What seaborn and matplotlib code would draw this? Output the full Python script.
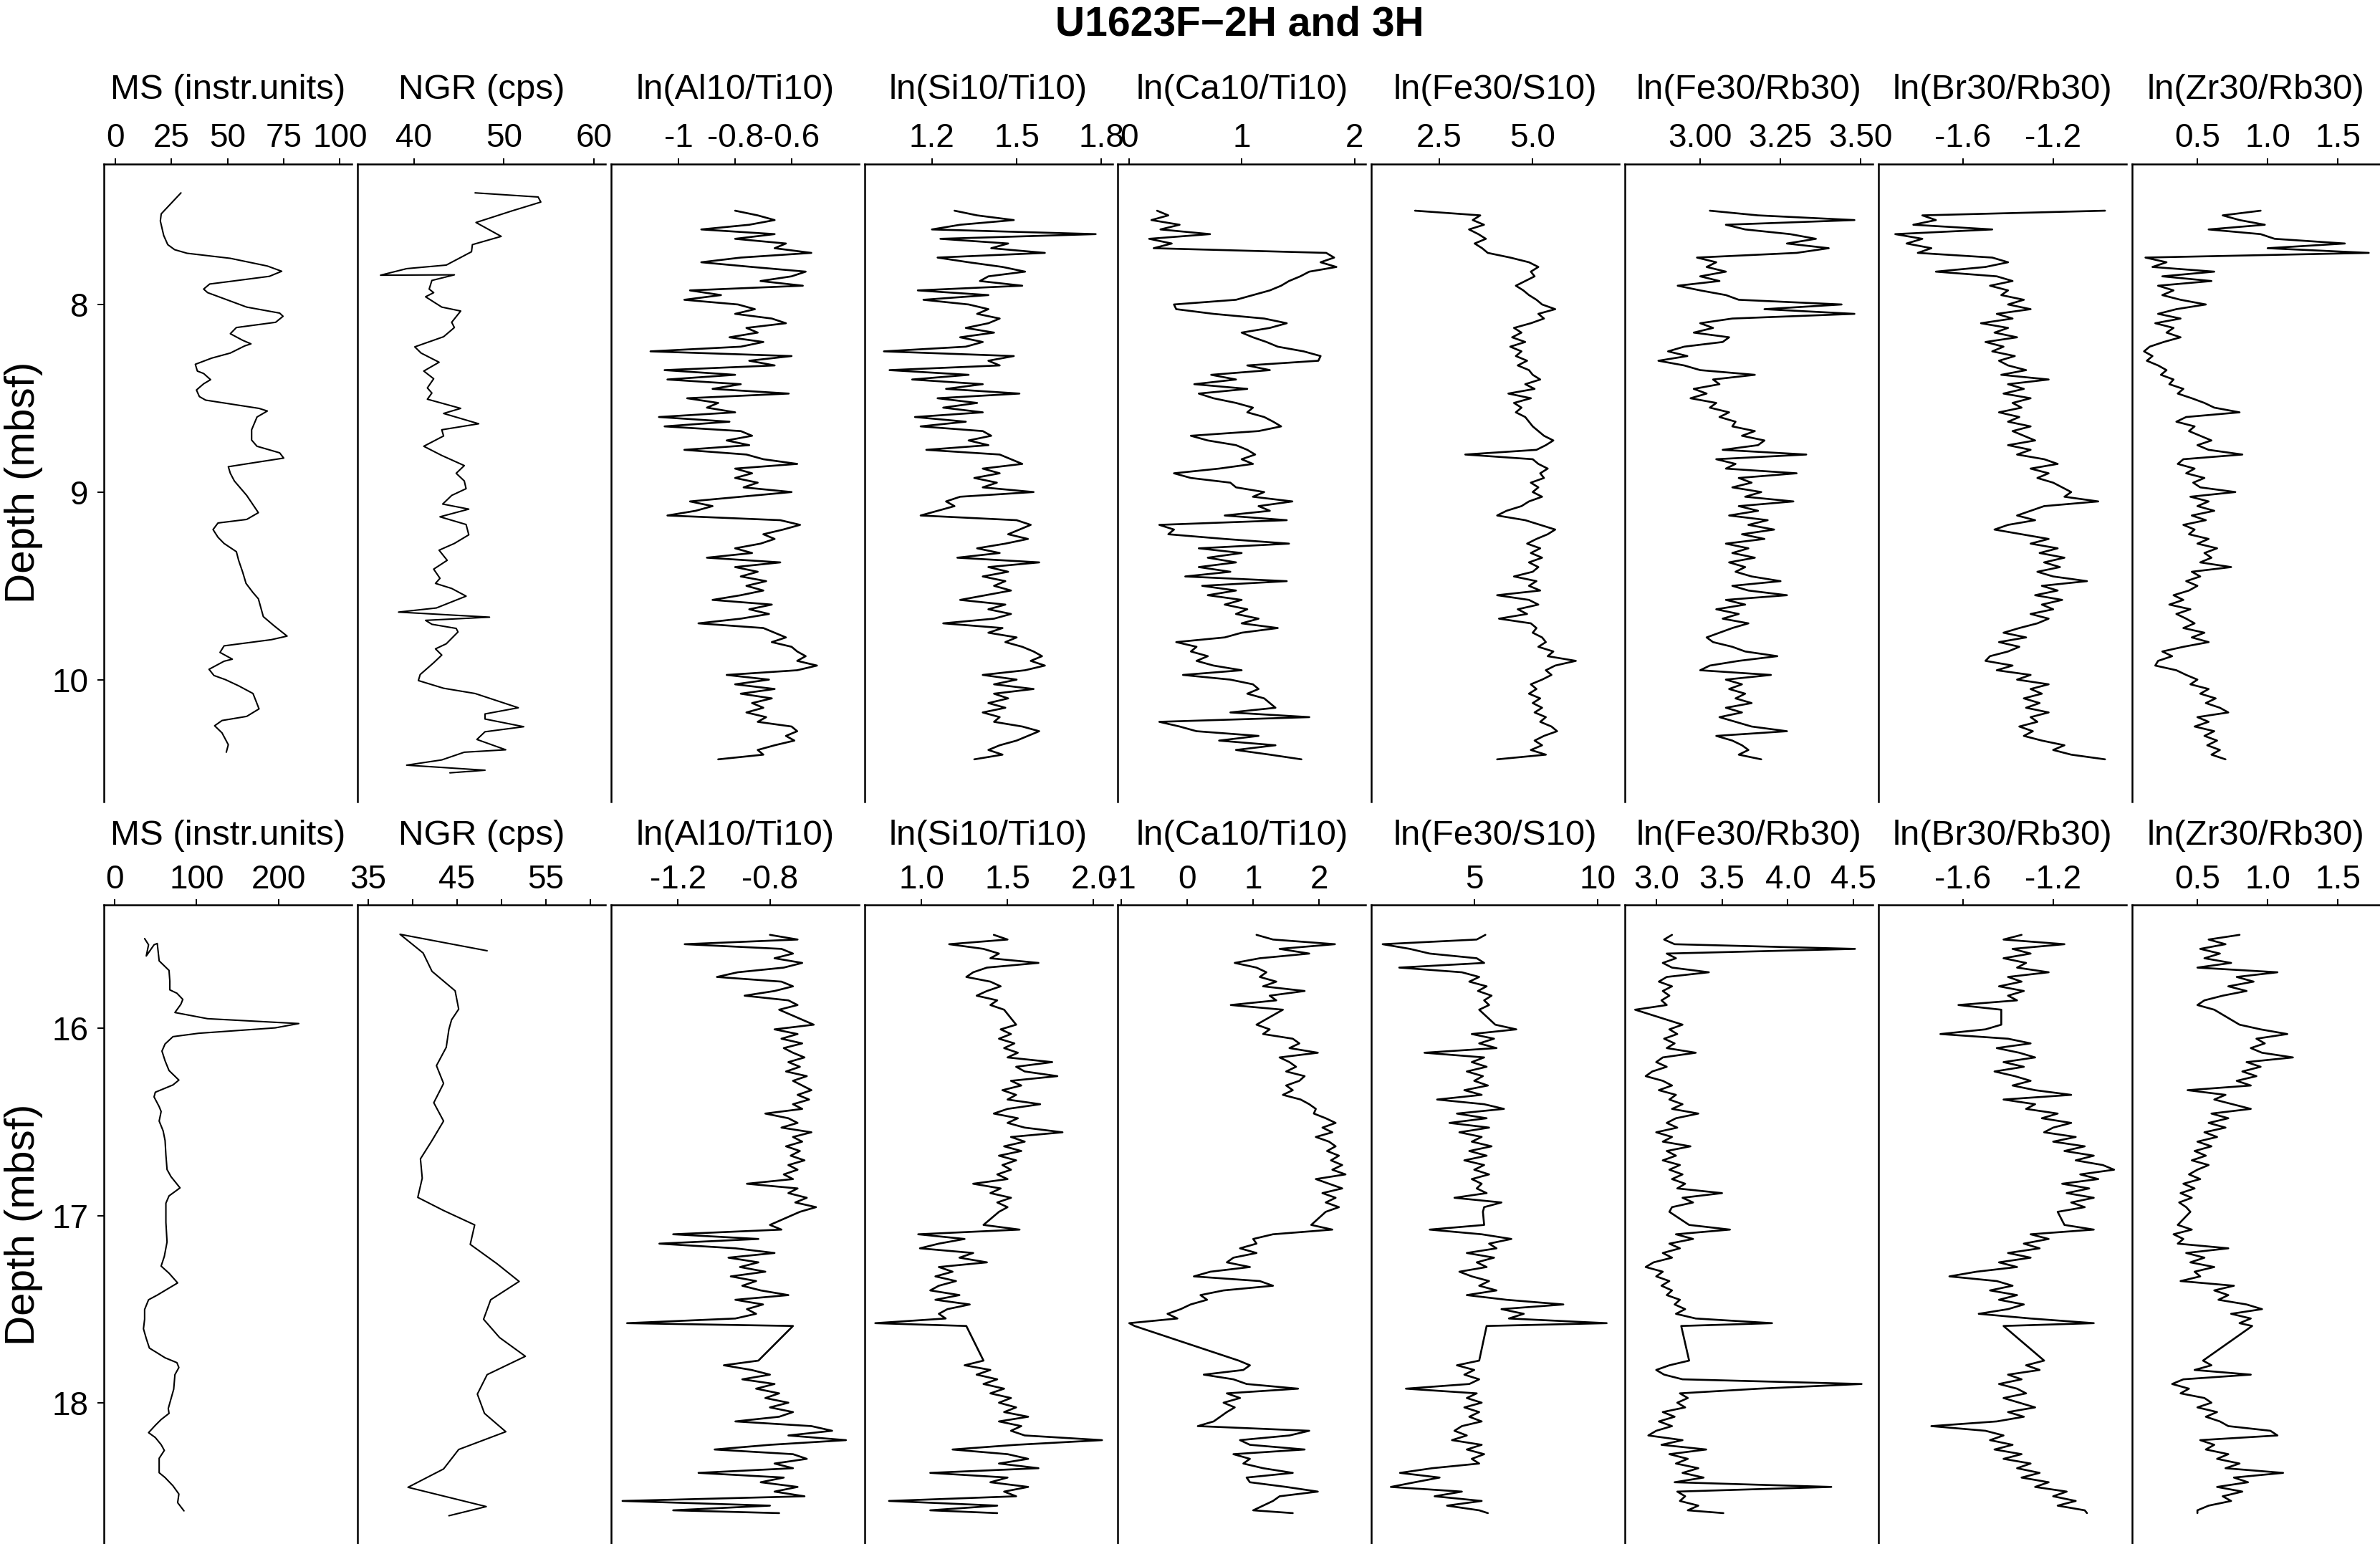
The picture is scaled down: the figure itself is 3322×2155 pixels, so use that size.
import matplotlib
matplotlib.use("Agg")
import matplotlib.pyplot as plt
import seaborn as sns

# ---------------- data: section 2H (upper row) ----------------
ms_top_depth = [7.405, 7.517, 7.555, 7.632, 7.681, 7.708, 7.727, 7.754, 7.795, 7.823,
                7.850, 7.877, 7.891, 7.918, 7.937, 8.014, 8.046, 8.063, 8.095, 8.123,
                8.156, 8.191, 8.210, 8.221, 8.259, 8.286, 8.319, 8.355, 8.368, 8.401,
                8.423, 8.456, 8.491, 8.510, 8.554, 8.568, 8.600, 8.668, 8.723, 8.756,
                8.791, 8.819, 8.846, 8.865, 8.900, 8.941, 9.018, 9.110, 9.146, 9.165,
                9.200, 9.241, 9.274, 9.318, 9.364, 9.427, 9.487, 9.536, 9.569, 9.664,
                9.711, 9.768, 9.787, 9.820, 9.855, 9.891, 9.902, 9.945, 9.978, 10.000,
                10.033, 10.074, 10.101, 10.156, 10.196, 10.218, 10.246, 10.284, 10.347, 10.387]
ms_top = [29.2, 20.4, 20.0, 21.5, 23.3, 26.4, 31.9, 51.2, 67.7, 74.1,
          68.6, 51.2, 42.0, 39.3, 41.1, 58.5, 73.2, 74.7, 71.4, 53.9,
          51.2, 56.7, 60.4, 57.6, 51.2, 42.9, 35.6, 36.5, 39.3, 42.4,
          39.3, 36.1, 37.4, 40.2, 64.0, 67.7, 63.1, 60.7, 60.7, 63.1,
          73.2, 75.0, 60.4, 50.3, 51.2, 53.0, 58.5, 63.7, 58.5, 45.7,
          43.5, 45.7, 48.4, 53.9, 54.9, 56.7, 58.2, 61.3, 63.7, 65.9,
          70.5, 76.5, 69.5, 48.4, 46.6, 52.1, 48.4, 41.7, 43.9, 49.0,
          54.9, 61.3, 62.2, 64.0, 58.5, 47.5, 44.2, 47.5, 50.3, 49.4]

ngr_top_depth = [7.405, 7.427, 7.454, 7.482, 7.501, 7.563, 7.637, 7.681, 7.719, 7.790,
                 7.809, 7.844, 7.842, 7.872, 7.918, 7.937, 7.959, 8.014, 8.035, 8.095,
                 8.123, 8.172, 8.226, 8.259, 8.308, 8.355, 8.396, 8.445, 8.472, 8.505,
                 8.554, 8.581, 8.636, 8.668, 8.701, 8.756, 8.805, 8.859, 8.900, 8.941,
                 8.982, 9.018, 9.064, 9.091, 9.132, 9.173, 9.228, 9.274, 9.310, 9.364,
                 9.411, 9.460, 9.487, 9.514, 9.555, 9.618, 9.640, 9.667, 9.684, 9.705,
                 9.727, 9.746, 9.809, 9.836, 9.869, 9.910, 9.973, 10.005, 10.046, 10.074,
                 10.150, 10.183, 10.210, 10.251, 10.278, 10.319, 10.374, 10.387, 10.428, 10.456,
                 10.483, 10.497]
ngr_top = [46.8, 53.8, 54.1, 52.2, 50.9, 46.9, 49.7, 46.5, 46.4, 43.6,
           39.2, 36.3, 44.5, 42.0, 41.7, 42.2, 41.3, 43.1, 45.2, 44.2,
           44.5, 43.3, 40.1, 40.8, 42.8, 41.1, 42.2, 41.5, 42.0, 41.5,
           45.2, 43.3, 47.2, 43.1, 43.3, 41.1, 43.1, 45.6, 44.7, 45.6,
           45.8, 44.2, 43.2, 46.1, 42.9, 45.8, 46.1, 44.5, 42.8, 43.7,
           42.2, 42.9, 42.4, 44.2, 45.8, 42.5, 38.3, 48.4, 41.3, 42.0,
           44.7, 44.9, 43.6, 42.4, 43.1, 42.2, 40.7, 40.5, 43.3, 46.8,
           51.6, 47.9, 47.9, 52.2, 47.9, 47.0, 50.2, 45.6, 43.1, 39.2,
           47.9, 44.0]

xrf_top_depth = [7.500, 7.525, 7.550, 7.575, 7.600, 7.625, 7.650, 7.675, 7.700, 7.725,
                 7.750, 7.775, 7.800, 7.825, 7.850, 7.875, 7.900, 7.925, 7.950, 7.975,
                 8.000, 8.025, 8.050, 8.075, 8.100, 8.125, 8.150, 8.175, 8.200, 8.225,
                 8.250, 8.275, 8.300, 8.325, 8.350, 8.375, 8.400, 8.425, 8.450, 8.475,
                 8.500, 8.525, 8.550, 8.575, 8.600, 8.625, 8.650, 8.675, 8.700, 8.725,
                 8.750, 8.775, 8.800, 8.825, 8.850, 8.875, 8.900, 8.925, 8.950, 8.975,
                 9.000, 9.025, 9.050, 9.075, 9.100, 9.125, 9.150, 9.175, 9.200, 9.225,
                 9.250, 9.275, 9.300, 9.325, 9.350, 9.375, 9.400, 9.425, 9.450, 9.475,
                 9.500, 9.525, 9.550, 9.575, 9.600, 9.625, 9.650, 9.675, 9.700, 9.725,
                 9.750, 9.775, 9.800, 9.825, 9.850, 9.875, 9.900, 9.925, 9.950, 9.975,
                 10.000, 10.025, 10.050, 10.075, 10.100, 10.125, 10.150, 10.175, 10.200, 10.225,
                 10.250, 10.275, 10.300, 10.325, 10.350, 10.375, 10.400, 10.425]

alti_top = [-0.80, -0.72, -0.66, -0.75, -0.92, -0.66, -0.80, -0.62, -0.66, -0.53,
            -0.78, -0.92, -0.74, -0.55, -0.60, -0.71, -0.56, -0.96, -0.85, -0.98,
            -0.79, -0.73, -0.80, -0.67, -0.62, -0.76, -0.72, -0.82, -0.70, -0.78,
            -1.10, -0.60, -0.75, -0.66, -1.05, -0.80, -1.04, -0.78, -0.88, -0.61,
            -0.97, -0.86, -0.90, -0.80, -1.07, -0.82, -1.05, -0.78, -0.74, -0.83,
            -0.75, -0.98, -0.76, -0.70, -0.58, -0.80, -0.74, -0.80, -0.72, -0.77,
            -0.60, -0.78, -0.96, -0.88, -0.94, -1.04, -0.64, -0.57, -0.63, -0.70,
            -0.66, -0.71, -0.80, -0.74, -0.90, -0.64, -0.80, -0.72, -0.78, -0.69,
            -0.76, -0.70, -0.78, -0.88, -0.67, -0.75, -0.68, -0.78, -0.93, -0.70,
            -0.66, -0.62, -0.67, -0.60, -0.58, -0.55, -0.58, -0.51, -0.58, -0.83,
            -0.68, -0.80, -0.66, -0.78, -0.67, -0.74, -0.70, -0.76, -0.69, -0.72,
            -0.60, -0.58, -0.62, -0.59, -0.66, -0.72, -0.70, -0.86]
siti_top = [1.28, 1.36, 1.49, 1.30, 1.20, 1.78, 1.23, 1.47, 1.41, 1.60,
            1.22, 1.33, 1.45, 1.53, 1.40, 1.37, 1.52, 1.15, 1.40, 1.17,
            1.33, 1.40, 1.36, 1.44, 1.40, 1.32, 1.42, 1.30, 1.38, 1.32,
            1.03, 1.49, 1.40, 1.44, 1.05, 1.33, 1.13, 1.38, 1.25, 1.51,
            1.22, 1.36, 1.24, 1.38, 1.14, 1.32, 1.16, 1.38, 1.41, 1.33,
            1.40, 1.18, 1.44, 1.48, 1.52, 1.38, 1.44, 1.35, 1.43, 1.38,
            1.56, 1.30, 1.25, 1.28, 1.22, 1.16, 1.50, 1.55, 1.51, 1.47,
            1.54, 1.46, 1.36, 1.44, 1.29, 1.58, 1.40, 1.47, 1.38, 1.46,
            1.42, 1.48, 1.39, 1.30, 1.46, 1.40, 1.48, 1.42, 1.24, 1.45,
            1.40, 1.50, 1.46, 1.52, 1.56, 1.59, 1.55, 1.60, 1.53, 1.38,
            1.50, 1.42, 1.56, 1.42, 1.47, 1.40, 1.46, 1.38, 1.44, 1.42,
            1.52, 1.58, 1.54, 1.50, 1.44, 1.40, 1.45, 1.35]
cati_top = [0.25, 0.35, 0.20, 0.45, 0.28, 0.72, 0.18, 0.38, 0.22, 1.75,
            1.82, 1.70, 1.84, 1.60, 1.52, 1.42, 1.35, 1.25, 1.10, 0.95,
            0.40, 0.42, 0.75, 1.20, 1.40, 1.25, 1.00, 1.10, 1.22, 1.32,
            1.55, 1.70, 1.68, 1.05, 1.25, 0.73, 0.95, 0.58, 1.05, 0.62,
            0.75, 0.95, 1.10, 1.05, 1.20, 1.28, 1.35, 1.15, 0.55, 0.70,
            0.95, 1.05, 1.12, 1.00, 1.10, 0.80, 0.40, 0.55, 0.90, 0.95,
            1.20, 1.10, 1.45, 1.15, 1.25, 0.85, 1.40, 0.27, 0.40, 0.35,
            0.85, 1.42, 0.62, 1.00, 0.70, 0.95, 0.62, 0.90, 0.50, 1.40,
            0.65, 0.95, 0.70, 1.00, 0.85, 1.05, 0.95, 1.15, 1.00, 1.32,
            1.00, 0.85, 0.42, 0.60, 0.55, 0.70, 0.60, 0.75, 1.00, 0.48,
            0.90, 1.10, 1.15, 1.05, 1.20, 1.25, 1.30, 0.90, 1.60, 0.27,
            0.45, 0.60, 1.15, 0.80, 1.30, 0.95, 1.25, 1.53]
fes_top = [1.86, 3.60, 3.40, 3.70, 3.30, 3.55, 3.75, 3.45, 3.65, 3.80,
           4.40, 4.90, 5.15, 4.95, 5.05, 4.80, 4.55, 4.75, 4.90, 5.10,
           5.25, 5.60, 5.15, 5.30, 4.95, 4.50, 4.70, 4.45, 4.80, 4.40,
           4.70, 4.55, 4.85, 4.60, 4.90, 5.00, 5.20, 4.80, 5.05, 4.35,
           4.95, 4.50, 4.70, 4.55, 4.80, 4.90, 5.00, 5.15, 5.30, 5.55,
           5.35, 5.10, 3.20, 5.00, 5.15, 5.40, 5.20, 5.30, 4.95, 5.15,
           5.00, 5.25, 4.90, 4.70, 4.30, 4.05, 4.80, 5.20, 5.60, 5.40,
           5.10, 4.85, 5.20, 4.95, 5.25, 4.90, 5.15, 5.00, 4.50, 5.10,
           4.90, 5.20, 4.05, 4.90, 5.15, 4.60, 4.85, 4.10, 4.95, 5.10,
           5.00, 5.25, 5.35, 5.15, 5.55, 5.40, 6.15, 5.60, 5.35, 5.50,
           5.25, 4.95, 5.10, 4.90, 5.20, 5.00, 5.25, 5.05, 5.35, 5.20,
           5.50, 5.65, 5.30, 5.05, 5.25, 4.95, 5.35, 4.05]
ferb_top = [3.03, 3.18, 3.48, 3.08, 3.14, 3.28, 3.36, 3.27, 3.40, 3.30,
            2.99, 3.05, 3.02, 3.08, 3.00, 3.06, 2.93, 3.00, 3.08, 3.12,
            3.44, 3.20, 3.48, 3.10, 3.00, 3.04, 2.98, 3.09, 3.07, 2.95,
            2.90, 2.96, 2.87, 2.95, 3.00, 3.17, 3.04, 3.06, 2.98, 3.02,
            2.97, 3.05, 3.03, 3.09, 3.06, 3.11, 3.10, 3.17, 3.13, 3.20,
            3.18, 3.07, 3.33, 3.05, 3.11, 3.08, 3.30, 3.12, 3.16, 3.10,
            3.19, 3.14, 3.29, 3.12, 3.18, 3.09, 3.21, 3.15, 3.23, 3.13,
            3.20, 3.08, 3.15, 3.10, 3.17, 3.09, 3.14, 3.11, 3.16, 3.25,
            3.10, 3.15, 3.27, 3.08, 3.14, 3.05, 3.12, 3.07, 3.15, 3.10,
            3.06, 3.02, 3.04, 3.10, 3.14, 3.24, 3.12, 3.03, 3.00, 3.22,
            3.08, 3.13, 3.09, 3.14, 3.11, 3.16, 3.08, 3.13, 3.06, 3.11,
            3.16, 3.27, 3.05, 3.10, 3.13, 3.15, 3.12, 3.19]
brrb_top = [-0.97, -1.78, -1.72, -1.82, -1.47, -1.90, -1.78, -1.85, -1.74, -1.80,
            -1.47, -1.40, -1.50, -1.72, -1.45, -1.38, -1.48, -1.40, -1.43, -1.33,
            -1.40, -1.30, -1.45, -1.38, -1.52, -1.40, -1.46, -1.36, -1.50, -1.42,
            -1.47, -1.37, -1.44, -1.40, -1.32, -1.43, -1.22, -1.40, -1.33, -1.42,
            -1.30, -1.38, -1.34, -1.44, -1.35, -1.40, -1.30, -1.38, -1.33, -1.28,
            -1.40, -1.30, -1.36, -1.24, -1.18, -1.30, -1.22, -1.27, -1.20, -1.16,
            -1.12, -1.15, -1.00, -1.24, -1.30, -1.36, -1.28, -1.40, -1.46, -1.34,
            -1.22, -1.30, -1.18, -1.26, -1.15, -1.24, -1.17, -1.27, -1.20, -1.05,
            -1.25, -1.18, -1.28, -1.16, -1.25, -1.20, -1.30, -1.22, -1.27, -1.35,
            -1.42, -1.32, -1.44, -1.35, -1.40, -1.48, -1.50, -1.38, -1.45, -1.30,
            -1.36, -1.22, -1.30, -1.25, -1.33, -1.26, -1.32, -1.22, -1.30, -1.27,
            -1.35, -1.29, -1.33, -1.25, -1.15, -1.20, -1.12, -0.97]
zrrb_top = [0.95, 0.68, 0.80, 0.98, 0.58, 0.95, 1.05, 1.55, 1.00, 1.72,
            0.13, 0.28, 0.18, 0.62, 0.25, 0.60, 0.22, 0.33, 0.25, 0.38,
            0.56, 0.35, 0.22, 0.38, 0.20, 0.33, 0.28, 0.38, 0.26, 0.16,
            0.12, 0.18, 0.14, 0.22, 0.28, 0.24, 0.33, 0.30, 0.40, 0.36,
            0.46, 0.55, 0.62, 0.80, 0.42, 0.35, 0.48, 0.44, 0.52, 0.60,
            0.50, 0.58, 0.82, 0.40, 0.36, 0.48, 0.42, 0.55, 0.47, 0.52,
            0.77, 0.45, 0.58, 0.50, 0.62, 0.46, 0.56, 0.40, 0.48, 0.44,
            0.58, 0.50, 0.64, 0.55, 0.60, 0.52, 0.74, 0.46, 0.52, 0.42,
            0.50, 0.44, 0.33, 0.40, 0.30, 0.45, 0.35, 0.42, 0.48, 0.40,
            0.55, 0.46, 0.58, 0.40, 0.25, 0.32, 0.22, 0.20, 0.35, 0.42,
            0.50, 0.45, 0.58, 0.52, 0.63, 0.56, 0.66, 0.72, 0.50, 0.58,
            0.48, 0.62, 0.55, 0.64, 0.57, 0.66, 0.60, 0.70]

# ---------------- data: section 3H (lower row) ----------------
ms_bot_depth = [15.520, 15.553, 15.613, 15.553, 15.546, 15.639, 15.690, 15.747, 15.794, 15.812,
                15.845, 15.871, 15.915, 15.948, 15.974, 15.997, 16.026, 16.044, 16.083, 16.121,
                16.173, 16.225, 16.276, 16.302, 16.341, 16.366, 16.418, 16.444, 16.495, 16.547,
                16.599, 16.676, 16.754, 16.792, 16.852, 16.895, 16.934, 17.037, 17.141, 17.218,
                17.270, 17.308, 17.360, 17.425, 17.450, 17.502, 17.554, 17.605, 17.657, 17.708,
                17.734, 17.760, 17.786, 17.812, 17.850, 17.928, 17.979, 18.031, 18.057, 18.090,
                18.121, 18.160, 18.186, 18.224, 18.255, 18.297, 18.374, 18.400, 18.444, 18.488,
                18.534, 18.578]
ms_bot = [36.8, 41.6, 38.8, 48.3, 52.2, 54.5, 66.5, 67.5, 67.5, 76.1,
          83.3, 80.9, 73.7, 113.4, 224.4, 195.7, 102.4, 71.3, 61.7, 57.9,
          61.7, 66.5, 78.5, 71.3, 49.8, 48.3, 54.5, 56.9, 54.5, 59.3,
          61.7, 62.7, 64.1, 68.9, 79.9, 66.5, 62.7, 62.7, 64.1, 60.8,
          56.9, 66.5, 77.0, 52.2, 41.6, 36.8, 36.8, 35.4, 38.8, 42.6,
          52.2, 61.7, 76.1, 78.5, 73.7, 72.2, 68.9, 65.6, 66.5, 56.9,
          49.8, 41.6, 49.8, 56.9, 60.8, 54.5, 54.5, 61.7, 71.3, 78.5,
          77.0, 84.7]

ngr_bot_depth = [15.585, 15.497, 15.597, 15.695, 15.799, 15.897, 15.954, 16.005, 16.101, 16.199,
                 16.294, 16.397, 16.495, 16.599, 16.697, 16.800, 16.903, 16.973, 17.050, 17.154,
                 17.257, 17.352, 17.450, 17.554, 17.652, 17.752, 17.850, 17.954, 18.057, 18.155,
                 18.250, 18.354, 18.452, 18.555, 18.604]
ngr_bot = [48.4, 38.6, 41.2, 42.2, 44.8, 45.2, 44.4, 44.1, 43.8, 42.7,
           43.5, 42.4, 43.5, 42.2, 40.9, 41.1, 40.6, 43.5, 47.0, 46.5,
           49.5, 52.0, 48.8, 48.0, 49.8, 52.7, 48.4, 47.3, 48.1, 50.5,
           45.2, 43.5, 39.5, 48.3, 44.1]

xrf_bot_depth = [15.500, 15.525, 15.550, 15.575, 15.600, 15.625, 15.650, 15.675, 15.700, 15.725,
                 15.750, 15.775, 15.800, 15.825, 15.850, 15.875, 15.900,
                 15.980, 16.005, 16.030, 16.055, 16.080, 16.105, 16.130, 16.155, 16.180, 16.205,
                 16.230, 16.255, 16.280, 16.305, 16.330, 16.355, 16.380, 16.405, 16.430, 16.455,
                 16.480, 16.505, 16.530, 16.555, 16.580, 16.605, 16.630, 16.655, 16.680, 16.705,
                 16.730, 16.755, 16.780, 16.805, 16.830, 16.855, 16.880, 16.905, 16.930, 16.955,
                 16.980,
                 17.050, 17.075, 17.100, 17.125, 17.150, 17.175, 17.200, 17.225, 17.250, 17.275,
                 17.300, 17.325, 17.350, 17.375, 17.400, 17.425, 17.450, 17.475, 17.500, 17.525,
                 17.550, 17.575, 17.590,
                 17.775, 17.800, 17.825, 17.850, 17.875, 17.900, 17.925, 17.950, 17.975, 18.000,
                 18.025, 18.050, 18.075, 18.100, 18.125, 18.150, 18.175, 18.200, 18.225, 18.250,
                 18.275, 18.300, 18.325, 18.350, 18.375, 18.400, 18.425, 18.450, 18.475, 18.500,
                 18.525, 18.550, 18.575, 18.590]

alti_bot = [-0.80, -0.68, -1.17, -0.75, -0.70, -0.78, -0.66, -0.74, -0.94, -1.03,
            -0.75, -0.70, -0.78, -0.91, -0.72, -0.68, -0.76,
            -0.61, -0.78, -0.68, -0.75, -0.66, -0.74, -0.70, -0.65, -0.72, -0.67,
            -0.73, -0.64, -0.70, -0.66, -0.62, -0.68, -0.63, -0.70, -0.66, -0.82,
            -0.72, -0.68, -0.75, -0.62, -0.70, -0.66, -0.73, -0.67, -0.71, -0.65,
            -0.72, -0.68, -0.74, -0.70, -0.90, -0.68, -0.72, -0.64, -0.69, -0.60,
            -0.67,
            -0.80, -0.75, -1.22, -0.85, -1.28, -0.95, -0.78, -0.98, -0.85, -0.93,
            -0.82, -0.97, -0.86, -0.92, -0.84, -0.72, -0.95, -0.83, -0.90, -0.86,
            -0.95, -1.42, -0.70,
            -0.85, -1.00, -0.88, -0.80, -0.92, -0.78, -0.86, -0.76, -0.82, -0.72,
            -0.80, -0.70, -0.76, -0.95, -0.62, -0.53, -0.72, -0.47, -0.80, -1.04,
            -0.70, -0.64, -0.78, -0.70, -1.11, -0.74, -0.84, -0.68, -0.78, -0.65,
            -1.44, -0.80, -1.22, -0.76]
siti_bot = [1.42, 1.50, 1.16, 1.36, 1.45, 1.40, 1.68, 1.38, 1.30, 1.26,
            1.40, 1.46, 1.38, 1.32, 1.44, 1.40, 1.48,
            1.55, 1.46, 1.52, 1.45, 1.54, 1.48, 1.56, 1.50, 1.76, 1.55,
            1.60, 1.79, 1.52, 1.58, 1.47, 1.55, 1.50, 1.69, 1.50, 1.42,
            1.56, 1.50, 1.60, 1.82, 1.52, 1.60, 1.48, 1.58, 1.45, 1.55,
            1.47, 1.52, 1.44, 1.50, 1.30, 1.46, 1.40, 1.52, 1.44, 1.50,
            1.45,
            1.36, 1.57, 0.98, 1.25, 1.10, 0.99, 1.30, 1.22, 1.38, 1.10,
            1.18, 1.08, 1.20, 1.10, 1.05, 1.22, 1.08, 1.28, 1.15, 1.10,
            1.14, 0.73, 1.26,
            1.36, 1.25, 1.40, 1.32, 1.44, 1.36, 1.48, 1.40, 1.52, 1.45,
            1.55, 1.48, 1.62, 1.45, 1.58, 1.52, 1.60, 2.05, 1.55, 1.18,
            1.50, 1.62, 1.45, 1.68, 1.05, 1.50, 1.40, 1.62, 1.48, 1.55,
            0.81, 1.44, 1.05, 1.44]
cati_bot = [1.05, 1.30, 2.24, 1.40, 1.85, 1.10, 0.72, 1.05, 1.20, 1.10,
            1.35, 1.15, 1.78, 1.25, 1.35, 0.66, 1.45,
            1.05, 1.25, 1.15, 1.60, 1.70, 1.55, 1.98, 1.40, 1.55, 1.65,
            1.50, 1.78, 1.70, 1.50, 1.60, 1.45, 1.72, 1.85, 1.95, 1.92,
            2.10, 2.25, 2.05, 2.20, 1.95, 2.15, 2.25, 2.12, 2.30, 2.18,
            2.35, 2.20, 2.40, 1.95, 2.15, 2.35, 2.05, 2.25, 2.10, 2.30,
            2.10,
            1.88, 2.20, 1.30, 1.00, 1.05, 0.80, 1.05, 0.70, 0.60, 0.95,
            0.35, 0.10, 1.10, 1.30, 0.55, 0.20, 0.30, 0.05, -0.10, -0.30,
            -0.15, -0.88, -0.80,
            0.78, 0.95, 0.85, 0.25, 0.70, 0.90, 1.68, 0.60, 0.80, 0.55,
            0.72, 0.60, 0.50, 0.40, 0.16, 1.85, 1.55, 0.80, 0.95, 1.78,
            0.70, 0.95, 0.85, 1.15, 1.60, 0.90, 0.95, 1.50, 1.98, 1.40,
            1.30, 1.15, 1.00, 1.60]
fes_bot = [5.45, 5.10, 1.30, 2.40, 3.20, 5.10, 5.40, 1.97, 4.50, 5.20,
           4.80, 5.50, 5.15, 5.70, 5.40, 5.60, 5.20,
           5.85, 6.70, 4.90, 5.80, 5.20, 5.90, 2.99, 5.40, 4.90, 5.50,
           4.70, 5.35, 5.00, 5.55, 4.60, 5.30, 3.50, 5.40, 6.20, 4.30,
           5.50, 4.00, 5.60, 4.40, 5.30, 4.90, 5.70, 4.80, 5.50, 4.60,
           5.40, 5.00, 5.60, 4.90, 5.30, 5.10, 5.50, 4.20, 6.10, 5.40,
           5.35,
           5.40, 3.20, 5.30, 6.50, 5.60, 5.90, 4.70, 5.80, 5.10, 5.50,
           4.40, 4.90, 5.60, 5.20, 5.90, 4.70, 6.30, 8.60, 6.10, 7.00,
           6.40, 10.35, 5.50,
           5.20, 4.30, 5.00, 4.60, 5.20, 4.80, 2.24, 5.10, 4.70, 5.30,
           4.60, 5.20, 4.80, 5.30, 4.50, 4.20, 4.70, 4.10, 5.30, 4.70,
           5.40, 4.90, 5.20, 3.30, 2.00, 3.60, 2.60, 1.63, 4.50, 3.40,
           5.30, 3.90, 5.20, 5.55]
ferb_bot = [3.12, 3.06, 3.14, 4.51, 3.08, 3.15, 3.05, 3.12, 3.40, 3.08,
            3.02, 3.12, 3.05, 3.10, 3.04, 3.08, 2.84,
            3.20, 3.10, 3.16, 3.06, 3.14, 3.08, 3.30, 3.05, 3.00, 3.08,
            2.97, 2.92, 3.05, 3.12, 3.02, 3.15, 3.10, 3.20, 3.12, 3.32,
            3.15, 3.08, 3.16, 3.00, 3.12, 3.05, 3.26, 3.08, 3.15, 3.05,
            3.18, 3.10, 3.20, 3.12, 3.22, 3.16, 3.50, 3.20, 3.28, 3.12,
            3.10,
            3.25, 3.56, 3.15, 3.28, 3.10, 3.18, 3.05, 3.12, 2.98, 2.92,
            3.05, 3.00, 3.10, 3.04, 3.12, 3.08, 3.18, 3.14, 3.22, 3.15,
            3.30, 3.88, 3.19,
            3.25, 3.10, 3.00, 3.06, 3.20, 4.56, 3.78, 3.18, 3.24, 3.16,
            3.22, 3.05, 3.14, 3.02, 3.12, 3.00, 2.94, 3.20, 3.04, 3.38,
            3.10, 3.24, 3.15, 3.32, 3.20, 3.36, 3.14, 4.33, 3.16, 3.22,
            3.18, 3.32, 3.24, 3.51]
brrb_bot = [-1.34, -1.42, -1.15, -1.38, -1.30, -1.42, -1.32, -1.36, -1.22, -1.40,
            -1.34, -1.44, -1.33, -1.40, -1.36, -1.62, -1.43,
            -1.43, -1.50, -1.70, -1.40, -1.30, -1.45, -1.35, -1.28, -1.42, -1.33,
            -1.46, -1.37, -1.30, -1.38, -1.28, -1.12, -1.42, -1.28, -1.32, -1.18,
            -1.25, -1.12, -1.20, -1.24, -1.10, -1.20, -1.06, -1.15, -1.02, -1.10,
            -0.98, -0.93, -1.08, -1.00, -1.16, -1.04, -1.14, -1.02, -1.12, -1.06,
            -1.18,
            -1.15, -1.02, -1.30, -1.22, -1.33, -1.26, -1.40, -1.30, -1.44, -1.36,
            -1.54, -1.66, -1.45, -1.38, -1.48, -1.36, -1.44, -1.33, -1.40, -1.53,
            -1.30, -1.02, -1.42,
            -1.24, -1.32, -1.26, -1.40, -1.34, -1.44, -1.36, -1.32, -1.42, -1.35,
            -1.28, -1.40, -1.33, -1.45, -1.74, -1.50, -1.42, -1.48, -1.38, -1.46,
            -1.34, -1.42, -1.30, -1.36, -1.26, -1.34, -1.22, -1.28, -1.14, -1.20,
            -1.10, -1.18, -1.06, -1.05]
zrrb_bot = [0.80, 0.58, 0.70, 0.52, 0.66, 0.55, 0.74, 0.50, 1.07, 0.78,
            0.90, 0.72, 0.85, 0.68, 0.55, 0.50, 0.62,
            0.80, 0.95, 1.14, 0.92, 0.98, 0.88, 0.96, 1.18, 0.85, 0.95,
            0.82, 0.92, 0.78, 0.88, 0.43, 0.70, 0.62, 0.75, 0.88, 0.60,
            0.72, 0.58, 0.70, 0.55, 0.64, 0.50, 0.60, 0.48, 0.56, 0.46,
            0.58, 0.50, 0.44, 0.52, 0.40, 0.48, 0.38, 0.46, 0.37, 0.42,
            0.45,
            0.36, 0.46, 0.33, 0.40, 0.36, 0.72, 0.42, 0.55, 0.45, 0.62,
            0.48, 0.52, 0.38, 0.76, 0.62, 0.72, 0.65, 0.85, 0.96, 0.74,
            0.88, 0.80, 0.89,
            0.54, 0.60, 0.48, 0.88, 0.40, 0.32, 0.44, 0.38, 0.55, 0.60,
            0.50, 0.64, 0.56, 0.66, 0.72, 1.02, 1.07, 0.52, 0.62, 0.56,
            0.72, 0.64, 0.80, 0.70, 1.11, 0.76, 0.86, 0.64, 0.82, 0.68,
            0.74, 0.58, 0.50, 0.50]

titles = ["MS (instr.units)", "NGR (cps)", "ln(Al10/Ti10)", "ln(Si10/Ti10)", "ln(Ca10/Ti10)",
          "ln(Fe30/S10)", "ln(Fe30/Rb30)", "ln(Br30/Rb30)", "ln(Zr30/Rb30)"]

top_ticks = [[0, 25, 50, 75, 100], [40, 50, 60], [-1, -0.8, -0.6], [1.2, 1.5, 1.8], [0, 1, 2],
             [2.5, 5.0], [3.0, 3.25, 3.5], [-1.6, -1.2], [0.5, 1.0, 1.5]]
top_labels = [["0", "25", "50", "75", "100"], ["40", "50", "60"], ["-1", "-0.8", "-0.6"],
              ["1.2", "1.5", "1.8"], ["0", "1", "2"], ["2.5", "5.0"], ["3.00", "3.25", "3.50"],
              ["-1.6", "-1.2"], ["0.5", "1.0", "1.5"]]
bot_ticks = [[0, 100, 200], [35, 40, 45, 50, 55, 60], [-1.2, -0.8], [1.0, 1.5, 2.0], [-1, 0, 1, 2],
             [5, 10], [3.0, 3.5, 4.0, 4.5], [-1.6, -1.2], [0.5, 1.0, 1.5]]
bot_labels = [["0", "100", "200"], ["35", "", "45", "", "55", ""], ["-1.2", "-0.8"],
              ["1.0", "1.5", "2.0"], ["-1", "0", "1", "2"], ["5", "10"],
              ["3.0", "3.5", "4.0", "4.5"], ["-1.6", "-1.2"], ["0.5", "1.0", "1.5"]]

# ---------------- figure ----------------
sns.set_style("ticks", {"axes.edgecolor": "black", "xtick.color": "black",
                        "ytick.color": "black", "text.color": "black"})
plt.rcParams['font.family'] = ['Liberation Sans', 'DejaVu Sans']

W, H = 3323, 2155
fig = plt.figure(figsize=(W / 100, H / 100), dpi=100)

rows = [
    dict(top=228.6, height=890.4, ylim=(10.651, 7.25), yticks=[8, 9, 10], title_off=91,
         series=[(ms_top, ms_top_depth), (ngr_top, ngr_top_depth), (alti_top, xrf_top_depth),
                 (siti_top, xrf_top_depth), (cati_top, xrf_top_depth), (fes_top, xrf_top_depth),
                 (ferb_top, xrf_top_depth), (brrb_top, xrf_top_depth), (zrrb_top, xrf_top_depth)],
         xlims=[(-5.1, 105.4), (33.74, 61.27), (-1.240, -0.3615), (0.961, 1.839), (-0.097, 2.101),
                (0.695, 7.31), (2.7656, 3.537), (-1.975, -0.876), (0.033, 1.798)],
         ticks=top_ticks, labels=top_labels),
    dict(top=1263.0, height=892.0, ylim=(18.755, 15.34), yticks=[16, 17, 18], title_off=84,
         series=[(ms_bot, ms_bot_depth), (ngr_bot, ngr_bot_depth), (alti_bot, xrf_bot_depth),
                 (siti_bot, xrf_bot_depth), (cati_bot, xrf_bot_depth), (fes_bot, xrf_bot_depth),
                 (ferb_bot, xrf_bot_depth), (brrb_bot, xrf_bot_depth), (zrrb_bot, xrf_bot_depth)],
         xlims=[(-12.6, 289.1), (33.82, 61.7), (-1.49, -0.414), (0.667, 2.11), (-1.052, 2.708),
                (0.845, 10.86), (2.762, 4.645), (-1.975, -0.876), (0.033, 1.798)],
         ticks=bot_ticks, labels=bot_labels),
]

for row in rows:
    for i in range(9):
        vals, depth = row["series"][i]
        assert len(vals) == len(depth), (row["top"], i, len(vals), len(depth))
        left = 145.2 + i * 353.8
        ax = fig.add_axes([left / W, 1 - (row["top"] + row["height"]) / H,
                           346 / W, row["height"] / H])
        # logging tracks are thin, core-scanner tracks a bit heavier
        lw = 1.5 if i < 2 else 1.9
        sns.lineplot(x=vals, y=depth, sort=False, estimator=None, color="black",
                     linewidth=lw, ax=ax)
        ax.set_xlim(*row["xlims"][i])
        ax.set_ylim(*row["ylim"])
        ax.set_xlabel("")
        ax.set_ylabel("")
        ax.xaxis.tick_top()
        ax.set_xticks(row["ticks"][i])
        ax.set_xticklabels(row["labels"][i])
        ax.tick_params(axis="x", top=True, bottom=False, labeltop=True, labelbottom=False,
                       length=5.8, width=1.4, pad=3.7, labelsize=33)
        if i == 0:
            ax.set_yticks(row["yticks"])
            ax.set_yticklabels([str(t) for t in row["yticks"]])
            ax.tick_params(axis="y", length=6.2, width=1.4, pad=9.5, labelsize=33)
        else:
            ax.set_yticks([])
        for side in ("right", "bottom"):
            ax.spines[side].set_visible(False)
        for side in ("left", "top"):
            ax.spines[side].set_linewidth(1.8)
        ax.annotate(titles[i], xy=(0.5, 1), xycoords="axes fraction",
                    xytext=(0, row["title_off"] * 0.72), textcoords="offset points",
                    ha="center", va="baseline", fontsize=35.5)
    fig.text(33 / W, 1 - (row["top"] + row["height"] / 2) / H, "Depth (mbsf)",
             rotation=90, ha="center", va="center", fontsize=42)

fig.text(1730 / W, 1 - 50 / H, "U1623F\u22122H and 3H", ha="center", va="baseline",
         fontsize=41, fontweight="bold")

fig.savefig("out.png", dpi=100)
